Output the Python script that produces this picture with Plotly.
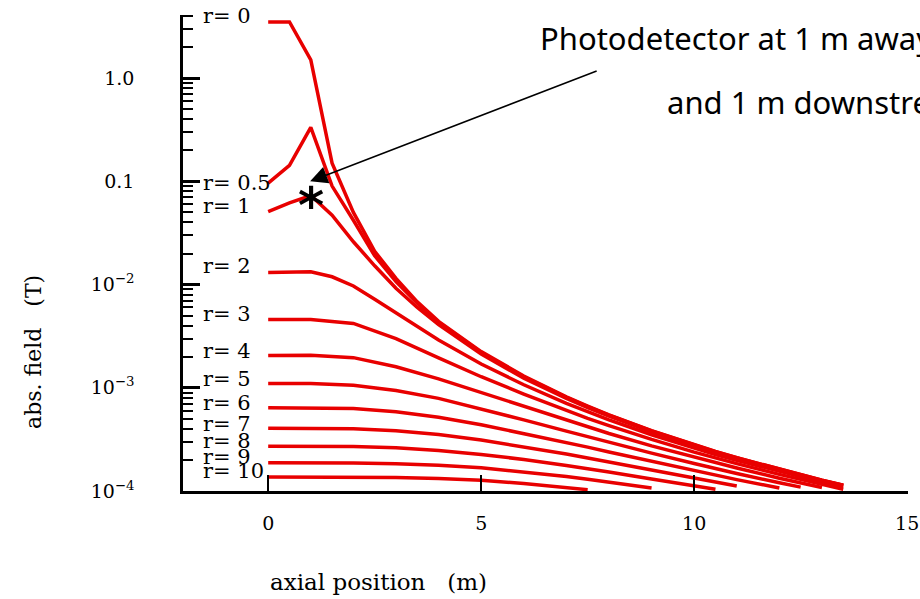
import numpy as np
import plotly.graph_objects as go

# ---------------- data ----------------
GRID_NEAR = [0, 0.5, 1, 1.5, 2, 2.5, 3, 3.5, 4, 5, 6, 7, 7.5, 8, 9, 10, 10.5, 11, 12, 12.5, 13, 13.5]
GRID_FAR = [0, 1, 2, 3, 4, 5, 6, 7, 7.5, 8, 9, 10, 10.5, 11, 12, 12.5, 13, 13.5]

r0 = [3.5, 3.5, 1.5, 0.15, 0.05, 0.021, 0.0115, 0.0068, 0.0044, 0.00224, 0.0013, 0.000816, 0.000664,
      0.000547, 0.000384, 0.00028, 0.000242, 0.00021, 0.000162, 0.000143, 0.000127, 0.000114]
r05 = [0.096, 0.143, 0.334, 0.09, 0.042, 0.019, 0.0107, 0.0066, 0.0043, 0.0022, 0.00128, 0.000809, 0.000658,
       0.000543, 0.000382, 0.000279, 0.000241, 0.00021, 0.000162, 0.000143, 0.000127, 0.000114]
r1 = [0.051, 0.062, 0.073, 0.047, 0.026, 0.0152, 0.0092, 0.006, 0.0041, 0.00212, 0.00124, 0.000788, 0.000643,
      0.000532, 0.000375, 0.000275, 0.000238, 0.000207, 0.00016, 0.000142, 0.000126, 0.000113]
r2 = [0.0131, 0.0133, 0.0133, 0.0119, 0.0097, 0.0072, 0.0053, 0.0039, 0.0029, 0.0017, 0.00107, 0.000705, 0.000584,
      0.000488, 0.000351, 0.00026, 0.000226, 0.000198, 0.000154, 0.000137, 0.000122, 0.000109]
r3 = [0.0046, 0.0046, 0.0042, 0.0030, 0.00195, 0.00128, 0.00087, 0.0006, 0.000505, 0.00043, 0.000316, 0.000238,
      0.000209, 0.000184, 0.000145, 0.000129, 0.000116, 0.000104]
r4 = [0.00205, 0.00207, 0.00196, 0.0016, 0.00122, 0.0009, 0.000655, 0.000482, 0.000416, 0.000361, 0.000274,
      0.000212, 0.000188, 0.000167, 0.000133, 0.000119, 0.000108]
r5 = [0.0011, 0.0011, 0.00106, 0.00094, 0.00079, 0.000626, 0.000489, 0.00038, 0.000335, 0.000296, 0.000233,
      0.000185, 0.000165, 0.000148, 0.00012, 0.000109]
r6 = [0.00064, 0.00064, 0.00063, 0.000587, 0.000518, 0.000439, 0.000362, 0.000295, 0.000266, 0.000239, 0.000194,
      0.000158, 0.000143, 0.000129, 0.000107]
r7 = [0.000405, 0.000405, 0.0004, 0.000384, 0.000352, 0.000312, 0.000269, 0.000228, 0.000209, 0.000191, 0.00016,
      0.000134, 0.000122, 0.000112]
r8 = [0.000272, 0.000272, 0.00027, 0.000263, 0.000247, 0.000226, 0.000202, 0.000177, 0.000165, 0.000153, 0.000131,
      0.000112, 0.000104]
r9 = [0.000188, 0.000188, 0.000187, 0.000184, 0.000178, 0.000168, 0.000153, 0.000138, 0.00013, 0.000122, 0.000107]
r10 = [0.000137, 0.000137, 0.000136, 0.000135, 0.000132, 0.000127, 0.000118, 0.000108, 0.000103]

SERIES = [r0, r05, r1, r2, r3, r4, r5, r6, r7, r8, r9, r10]
SERIES_GRID = [GRID_NEAR] * 4 + [GRID_FAR] * 8

LABELS = ["r= 0", "r= 0.5", "r= 1", "r= 2", "r= 3", "r= 4", "r= 5", "r= 6", "r= 7", "r= 8", "r= 9", "r= 10"]
LABEL_Y = [4.0, 0.0956, 0.0572, 0.0150, 0.00523, 0.00229, 0.00122, 0.000715, 0.000447, 0.000305, 0.000214, 0.000156]
LABEL_X = -1.58

X_TICKS = [0, 5, 10, 15]
X_TICK_TEXT = ["0", "5", "10", "15"]
Y_TICKS = [1e-4, 1e-3, 1e-2, 0.1, 1.0]
Y_TICK_TEXT = ["10<sup>−4</sup>", "10<sup>−3</sup>", "10<sup>−2</sup>", "0.1", "1.0"]

STAR_X, STAR_Y = 1.0, 0.073
ARROW_X, ARROW_Y = 0.985, 0.1

RED = "rgb(232,0,0)"
SERIF = "DejaVu Serif"

fig = go.Figure()
for grid, vals in zip(SERIES_GRID, SERIES):
    fig.add_trace(go.Scatter(x=grid[:len(vals)], y=vals, mode="lines",
                             line=dict(color=RED, width=3.5), showlegend=False, hoverinfo="skip"))

annotations = []
for lab, ly in zip(LABELS, LABEL_Y):
    annotations.append(dict(x=LABEL_X, y=np.log10(ly), xref="x", yref="y", text=lab, showarrow=False,
                            xanchor="left", yanchor="middle", font=dict(family=SERIF, size=21, color="black")))

# asterisk marking the photodetector
annotations.append(dict(x=STAR_X, y=np.log10(STAR_Y), xref="x", yref="y", text="<b>*</b>", showarrow=False,
                        xanchor="center", yanchor="middle", yshift=-11,
                        font=dict(family="DejaVu Sans", size=50, color="black")))
# arrow
annotations.append(dict(x=ARROW_X, y=np.log10(ARROW_Y), xref="x", yref="y", text="", showarrow=True,
                        ax=288, ay=-111, axref="pixel", ayref="pixel", arrowhead=2, arrowsize=2.3,
                        arrowwidth=1.5, arrowcolor="black", standoff=0))
# annotation text
annotations.append(dict(x=0.4897, y=0.951, xref="paper", yref="paper", text="Photodetector at 1 m away",
                        showarrow=False, xanchor="left", yanchor="middle",
                        font=dict(family="Comic Sans MS, Noto Sans", size=31, color="black")))
annotations.append(dict(x=0.6648, y=0.817, xref="paper", yref="paper", text="and 1 m downstream",
                        showarrow=False, xanchor="left", yanchor="middle",
                        font=dict(family="Comic Sans MS, Noto Sans", size=31, color="black")))
# axis titles
annotations.append(dict(x=-0.207, y=0.292, xref="paper", yref="paper", text="abs.\u00a0field\u00a0\u00a0\u00a0(T)",
                        showarrow=False, textangle=-90, xanchor="center", yanchor="middle",
                        font=dict(family=SERIF, size=22, color="black")))
annotations.append(dict(x=0.269, y=-0.191, xref="paper", yref="paper",
                        text="axial position\u00a0\u00a0\u00a0(m)",
                        showarrow=False, xanchor="center", yanchor="middle",
                        font=dict(family=SERIF, size=23, color="black")))

fig.update_layout(
    width=920, height=599,
    margin=dict(l=183, r=12, t=15, b=108, autoexpand=False),
    paper_bgcolor="white", plot_bgcolor="white",
    annotations=annotations,
    xaxis=dict(range=[-2, 15.02], showline=True, linecolor="black", linewidth=2.5, automargin=False,
               ticks="inside", tickvals=X_TICKS, ticktext=X_TICK_TEXT, ticklen=16, tickwidth=2,
               tickcolor="black", showgrid=False, zeroline=False, ticklabelstandoff=13,
               tickfont=dict(family=SERIF, size=19, color="black")),
    yaxis=dict(type="log", range=[-4, 0.612], showline=True, linecolor="black", linewidth=2.5,
               automargin=False,
               ticks="inside", tickvals=Y_TICKS, ticktext=Y_TICK_TEXT, ticklen=17, tickwidth=2.5,
               tickcolor="black", showgrid=False, zeroline=False, ticklabelstandoff=42,
               tickfont=dict(family=SERIF, size=19, color="black"),
               minor=dict(ticks="inside", ticklen=10, tickwidth=2, tickcolor="black", dtick="D1",
                          showgrid=False)),
)

fig.write_html("out.html")
